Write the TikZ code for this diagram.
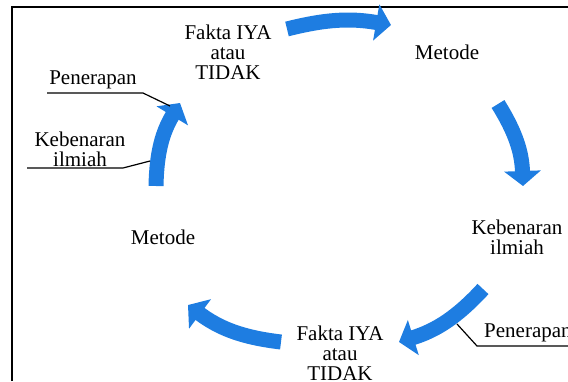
\documentclass[tikz,border=0pt]{standalone}
\usepackage{fontspec}
\setmainfont{Liberation Serif}
\usetikzlibrary{arrows.meta}
\definecolor{flowblue}{RGB}{30,125,225}
\begin{document}
\begin{tikzpicture}[x=1pt,y=-1pt,
  lbl/.style={font=\fontsize{21}{20}\selectfont, align=center, inner sep=0pt},
  flow/.style={draw=flowblue, line width=15pt, -{Triangle[width=36pt,length=15pt]}},
  leader/.style={draw=black, line width=1.2pt},
  frame/.style={draw=black, line width=2.5pt}]
\useasboundingbox (0,0) rectangle (568,381);

% open frame: left and top edges only
\coordinate (fBL) at (12,381);
\coordinate (fTL) at (12,7);
\coordinate (fTR) at (568,7);
\draw[frame] (fBL) -- (fTL) -- (fTR);

% labels around the cycle
\node[lbl] (faktaT) at (228,52) {Fakta IYA\\atau\\TIDAK};
\node[lbl] (metodeT) at (447,52) {Metode};
\node[lbl] (kebR) at (517,237) {Kebenaran\\ilmiah};
\node[lbl] (faktaB) at (340,353) {Fakta IYA\\atau\\TIDAK};
\node[lbl] (metodeL) at (163,237) {Metode};
\node[lbl, anchor=west] (penR) at (484,333) {Penerapan};
\node[lbl] (penL) at (93,80) {Penerapan};
\node[lbl] (kebL) at (80,149) {Kebenaran\\ilmiah};

% curved arrows, clockwise
\coordinate (a1s) at (287,29);  \coordinate (a1e) at (391,25);
\coordinate (a2s) at (498,104); \coordinate (a2e) at (523,186);
\coordinate (a3s) at (483,289); \coordinate (a3e) at (399,342);
\coordinate (a4s) at (281,342); \coordinate (a4e) at (188,305);
\coordinate (a5s) at (156,186); \coordinate (a5e) at (180,103);
\draw[flow] (a1s) to[bend left=12] (a1e);
\draw[flow] (a2s) to[bend left=15] (a2e);
\draw[flow] (a3s) to[bend left=15] (a3e);
\draw[flow] (a4s) to[bend left=15] (a4e);
\draw[flow] (a5s) to[bend left=15] (a5e);

% leader lines for the side labels
\coordinate (lp1) at (47,93);  \coordinate (lp2) at (143,93);  \coordinate (lp3) at (170,106);
\coordinate (lk1) at (27,168); \coordinate (lk2) at (123,168); \coordinate (lk3) at (150,161);
\coordinate (rp1) at (457,324); \coordinate (rp2) at (477,346); \coordinate (rp3) at (568,346);
\draw[leader] (lp1) -- (lp2) -- (lp3);
\draw[leader] (lk1) -- (lk2) -- (lk3);
\draw[leader] (rp1) -- (rp2) -- (rp3);
\end{tikzpicture}
\end{document}
